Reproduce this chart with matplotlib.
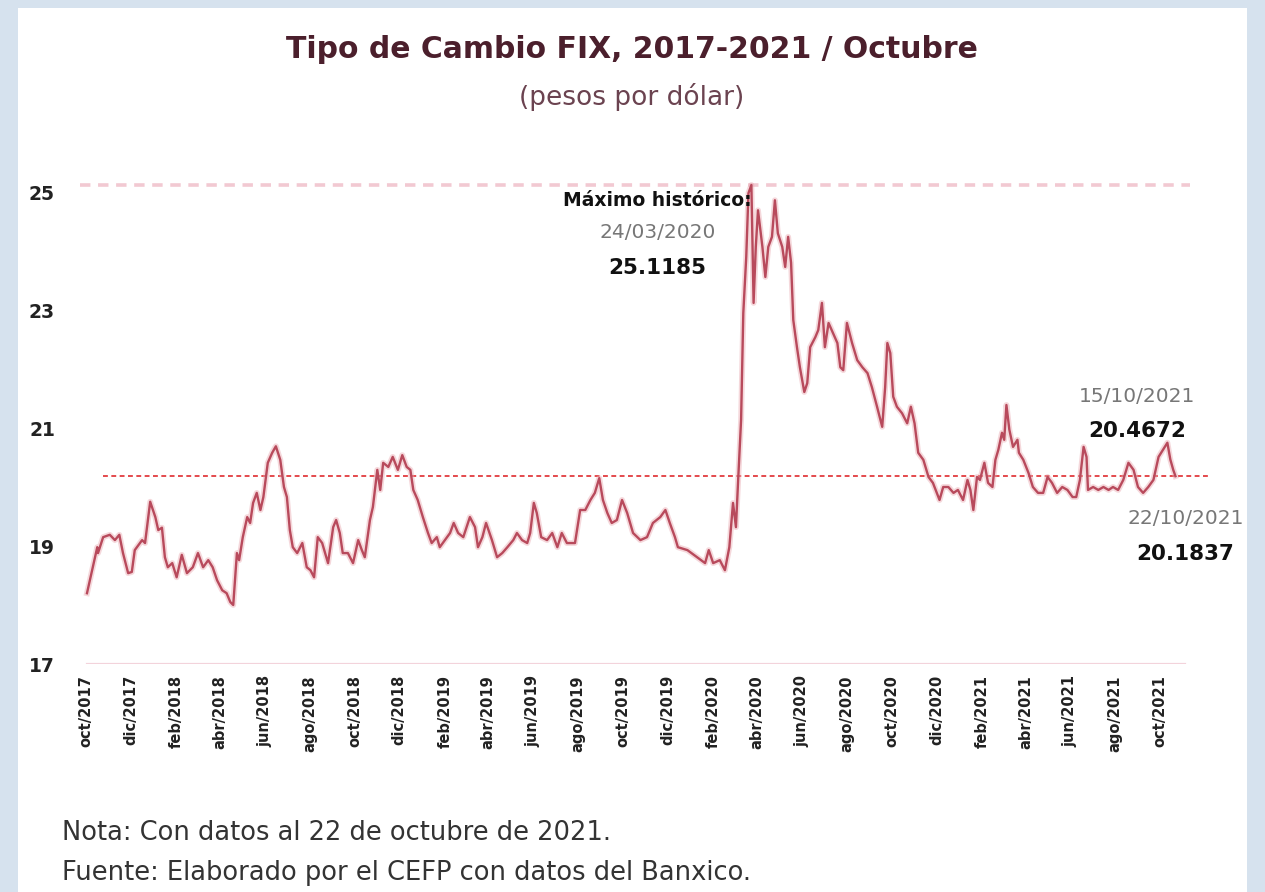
import matplotlib
matplotlib.use("Agg")
import matplotlib.pyplot as plt
import matplotlib.patches as mpatches
import pandas as pd

plt.rcParams['lines.scale_dashes'] = False

# ---------------- data ----------------
dates = [
 "2017-10-02","2017-10-09","2017-10-16","2017-10-17","2017-10-24","2017-11-02","2017-11-09","2017-11-15",
 "2017-11-20","2017-11-27","2017-12-02","2017-12-06","2017-12-16","2017-12-20","2017-12-27","2018-01-03",
 "2018-01-07","2018-01-12","2018-01-16","2018-01-20","2018-01-26","2018-02-01","2018-02-08","2018-02-15",
 "2018-02-23","2018-03-02","2018-03-09","2018-03-16","2018-03-22","2018-03-28","2018-04-04","2018-04-10",
 "2018-04-15","2018-04-19","2018-04-24","2018-04-27","2018-05-02","2018-05-08","2018-05-12","2018-05-16",
 "2018-05-21","2018-05-26","2018-05-30","2018-06-05","2018-06-11","2018-06-16","2018-06-22","2018-06-27",
 "2018-07-01","2018-07-05","2018-07-09","2018-07-15","2018-07-22","2018-07-28","2018-08-02","2018-08-07",
 "2018-08-12","2018-08-18","2018-08-26","2018-09-02","2018-09-06","2018-09-11","2018-09-15","2018-09-22",
 "2018-09-29","2018-10-06","2018-10-11","2018-10-15","2018-10-22","2018-10-26","2018-11-01","2018-11-05",
 "2018-11-09","2018-11-16","2018-11-22","2018-11-29","2018-12-05","2018-12-11","2018-12-16","2018-12-20",
 "2018-12-26","2019-01-02","2019-01-09","2019-01-14","2019-01-21","2019-01-25","2019-02-01","2019-02-08",
 "2019-02-13","2019-02-19","2019-02-26","2019-03-07","2019-03-14","2019-03-18","2019-03-24","2019-03-29",
 "2019-04-06","2019-04-13","2019-04-20","2019-04-27","2019-05-05","2019-05-10","2019-05-17","2019-05-24",
 "2019-05-28","2019-06-02","2019-06-06","2019-06-12","2019-06-20","2019-06-27","2019-07-04","2019-07-10",
 "2019-07-17","2019-07-28","2019-08-04","2019-08-11","2019-08-18","2019-08-24","2019-08-30","2019-09-04",
 "2019-09-10","2019-09-16","2019-09-23","2019-09-30","2019-10-07","2019-10-15","2019-10-25","2019-11-03",
 "2019-11-11","2019-11-21","2019-11-28","2019-12-04","2019-12-11","2019-12-15","2019-12-28","2020-01-10",
 "2020-01-21","2020-01-26","2020-02-01","2020-02-10","2020-02-17","2020-02-23","2020-02-28","2020-03-03",
 "2020-03-06","2020-03-10","2020-03-13","2020-03-17","2020-03-20","2020-03-24","2020-03-27","2020-03-30",
 "2020-04-02","2020-04-08","2020-04-12","2020-04-16","2020-04-21","2020-04-25","2020-04-29","2020-05-05",
 "2020-05-09","2020-05-13","2020-05-17","2020-05-20","2020-05-25","2020-05-29","2020-06-04","2020-06-08",
 "2020-06-12","2020-06-19","2020-06-23","2020-06-28","2020-07-02","2020-07-07","2020-07-13","2020-07-19",
 "2020-07-23","2020-07-27","2020-08-01","2020-08-08","2020-08-15","2020-08-22","2020-08-29","2020-09-04",
 "2020-09-11","2020-09-18","2020-09-22","2020-09-25","2020-09-29","2020-10-03","2020-10-08","2020-10-15",
 "2020-10-22","2020-10-27","2020-11-01","2020-11-06","2020-11-13","2020-11-20","2020-11-26","2020-12-05",
 "2020-12-10","2020-12-17","2020-12-24","2020-12-30","2021-01-06","2021-01-12","2021-01-16","2021-01-20",
 "2021-01-25","2021-01-29","2021-02-04","2021-02-09","2021-02-15","2021-02-19","2021-02-23","2021-02-28",
 "2021-03-03","2021-03-06","2021-03-10","2021-03-15","2021-03-21","2021-03-23","2021-03-29","2021-04-05",
 "2021-04-11","2021-04-18","2021-04-25","2021-05-01","2021-05-07","2021-05-14","2021-05-21","2021-05-28",
 "2021-06-04","2021-06-09","2021-06-14","2021-06-19","2021-06-23","2021-06-25","2021-07-02","2021-07-09",
 "2021-07-16","2021-07-23","2021-07-29","2021-08-05","2021-08-12","2021-08-19","2021-08-26","2021-09-01",
 "2021-09-08","2021-09-15","2021-09-22","2021-09-29","2021-10-05","2021-10-11","2021-10-15","2021-10-19",
 "2021-10-22",
]
fix = [
 18.20,18.59,18.98,18.88,19.15,19.19,19.10,19.19,
 18.88,18.54,18.56,18.93,19.10,19.05,19.75,19.49,
 19.27,19.31,18.81,18.64,18.71,18.47,18.85,18.54,
 18.64,18.88,18.64,18.76,18.64,18.42,18.25,18.20,
 18.05,18.00,18.88,18.76,19.15,19.49,19.39,19.73,
 19.90,19.61,19.83,20.41,20.58,20.69,20.46,20.00,
 19.83,19.27,18.98,18.88,19.05,18.64,18.59,18.47,
 19.15,19.05,18.71,19.32,19.44,19.22,18.88,18.88,
 18.71,19.10,18.93,18.81,19.44,19.66,20.29,19.95,
 20.41,20.34,20.51,20.29,20.54,20.34,20.29,19.95,
 19.78,19.49,19.22,19.05,19.15,18.98,19.10,19.22,
 19.39,19.22,19.15,19.49,19.32,18.98,19.15,19.39,
 19.10,18.81,18.88,18.98,19.10,19.22,19.10,19.05,
 19.22,19.73,19.56,19.15,19.10,19.22,18.98,19.22,
 19.05,19.05,19.61,19.61,19.78,19.90,20.15,19.78,
 19.56,19.39,19.44,19.78,19.56,19.22,19.10,19.15,
 19.39,19.49,19.61,19.39,19.15,18.98,18.93,18.81,
 18.71,18.93,18.71,18.76,18.59,18.98,19.73,19.32,
 20.12,21.14,22.95,23.90,24.98,25.1185,23.12,24.07,
 24.69,24.07,23.56,24.07,24.24,24.86,24.30,24.07,
 23.73,24.24,23.80,22.83,22.37,22.03,21.61,21.76,
 22.37,22.54,22.66,23.12,22.37,22.78,22.61,22.44,
 22.03,21.98,22.78,22.44,22.15,22.03,21.93,21.69,
 21.36,21.02,21.69,22.44,22.27,21.53,21.36,21.25,
 21.08,21.36,21.08,20.58,20.46,20.17,20.07,19.78,
 20.00,20.00,19.90,19.95,19.78,20.12,19.95,19.61,
 20.17,20.12,20.41,20.07,20.00,20.46,20.63,20.92,
 20.80,21.39,20.97,20.68,20.80,20.58,20.46,20.24,
 20.00,19.90,19.90,20.17,20.07,19.90,20.00,19.95,
 19.83,19.83,20.12,20.68,20.51,19.95,20.00,19.95,
 20.00,19.95,20.00,19.95,20.12,20.41,20.29,20.00,
 19.90,20.00,20.12,20.51,20.63,20.75,20.4672,20.29,
 20.1837,
]
yticks = [17, 19, 21, 23, 25]
month_abbr = {1: "ene", 2: "feb", 3: "mar", 4: "abr", 5: "may", 6: "jun",
              7: "jul", 8: "ago", 9: "sep", 10: "oct", 11: "nov", 12: "dic"}
max_value, max_date = 25.1185, "24/03/2020"
prev_value, prev_date = 20.4672, "15/10/2021"
last_value, last_date = 20.1837, "22/10/2021"

title = "Tipo de Cambio FIX, 2017-2021 / Octubre"
subtitle = "(pesos por dólar)"
note1 = "Nota: Con datos al 22 de octubre de 2021."
note2 = "Fuente: Elaborado por el CEFP con datos del Banxico."

# ---------------- figure ----------------
W, H = 1265, 892
fig = plt.figure(figsize=(W / 100, H / 100), dpi=100)
fig.patch.set_facecolor("#d6e2ee")
fig.patches.append(mpatches.Rectangle((18 / W, 0), (1247 - 18) / W, (H - 8) / H,
                                      transform=fig.transFigure, facecolor="white",
                                      edgecolor="none", zorder=-5))

ax = fig.add_axes([80 / W, (H - 664) / H, 1130 / W, 8.3 * 59 / H])
ax.set_zorder(3)
ax.set_facecolor("none")

x = pd.to_datetime(dates)
ax.plot(x, fix, color="#e9a9b1", lw=4.2, alpha=0.45, solid_joinstyle="round", zorder=3)
ax.plot(x, fix, color="#b84a5c", lw=1.7, solid_joinstyle="round", zorder=4)

ax.set_xlim(pd.Timestamp("2017-09-22 12:00"), pd.Timestamp("2021-12-08"))
ax.set_ylim(17, 25.3)

# reference lines
ax.axhline(max_value, xmin=0.0, xmax=0.982, color="#f2c9d2", lw=2.6,
           dashes=(7.5, 5.5), zorder=2)
ax.axhline(last_value, xmin=0.02, xmax=1.0, color="#e23b3f", lw=1.3,
           dashes=(3.5, 2.5), zorder=2)
ax.axhline(17, xmin=0.006, xmax=0.978, color="#f3d3db", lw=1.6, zorder=2)

for s in ax.spines.values():
    s.set_visible(False)

ax.set_yticks(yticks)
ax.set_yticklabels([str(t) for t in yticks], fontsize=13.5, fontweight="bold", color="#222222")
ax.tick_params(axis="y", length=0, pad=18)

ticks = pd.date_range("2017-10-01", "2021-10-01", freq="2MS")
ax.set_xticks(ticks)
ax.set_xticklabels([f"{month_abbr[t.month]}/{t.year}" for t in ticks], rotation=90,
                   fontsize=10.5, fontweight="bold", color="#222222")
ax.tick_params(axis="x", length=0, pad=8)

# annotations
ann_x1 = pd.Timestamp("2019-11-17")
ax.text(ann_x1, 24.86, "Máximo histórico:", ha="center", va="center",
        fontsize=13.5, fontweight="bold", color="#111111", zorder=5)
ax.text(ann_x1, 24.31, max_date, ha="center", va="center",
        fontsize=14.5, color="#777777", zorder=5)
ax.text(ann_x1, 23.71, f"{max_value:.4f}", ha="center", va="center",
        fontsize=15.5, fontweight="bold", color="#111111", zorder=5)

ax.text(pd.Timestamp("2021-08-31"), 21.54, prev_date, ha="center", va="center",
        fontsize=14.5, color="#777777", zorder=5)
ax.text(pd.Timestamp("2021-08-31"), 20.95, f"{prev_value:.4f}", ha="center", va="center",
        fontsize=15.5, fontweight="bold", color="#111111", zorder=5)

ax.text(pd.Timestamp("2021-11-05"), 19.47, last_date, ha="center", va="center",
        fontsize=14.5, color="#777777", zorder=5)
ax.text(pd.Timestamp("2021-11-04"), 18.86, f"{last_value:.4f}", ha="center", va="center",
        fontsize=15.5, fontweight="bold", color="#111111", zorder=5)

# titles and notes
fig.text(632 / W, 1 - 50 / H, title, ha="center", va="center", fontsize=21.5,
         fontweight="bold", color="#4b1f2c")
fig.text(632 / W, 1 - 97 / H, subtitle, ha="center", va="center", fontsize=19,
         color="#6b4350")
fig.text(62 / W, 1 - 833 / H, note1, ha="left", va="center", fontsize=18.5, color="#333333")
fig.text(62 / W, 1 - 873 / H, note2, ha="left", va="center", fontsize=18.5, color="#333333")

fig.savefig("out.png", dpi=100, facecolor=fig.get_facecolor())
